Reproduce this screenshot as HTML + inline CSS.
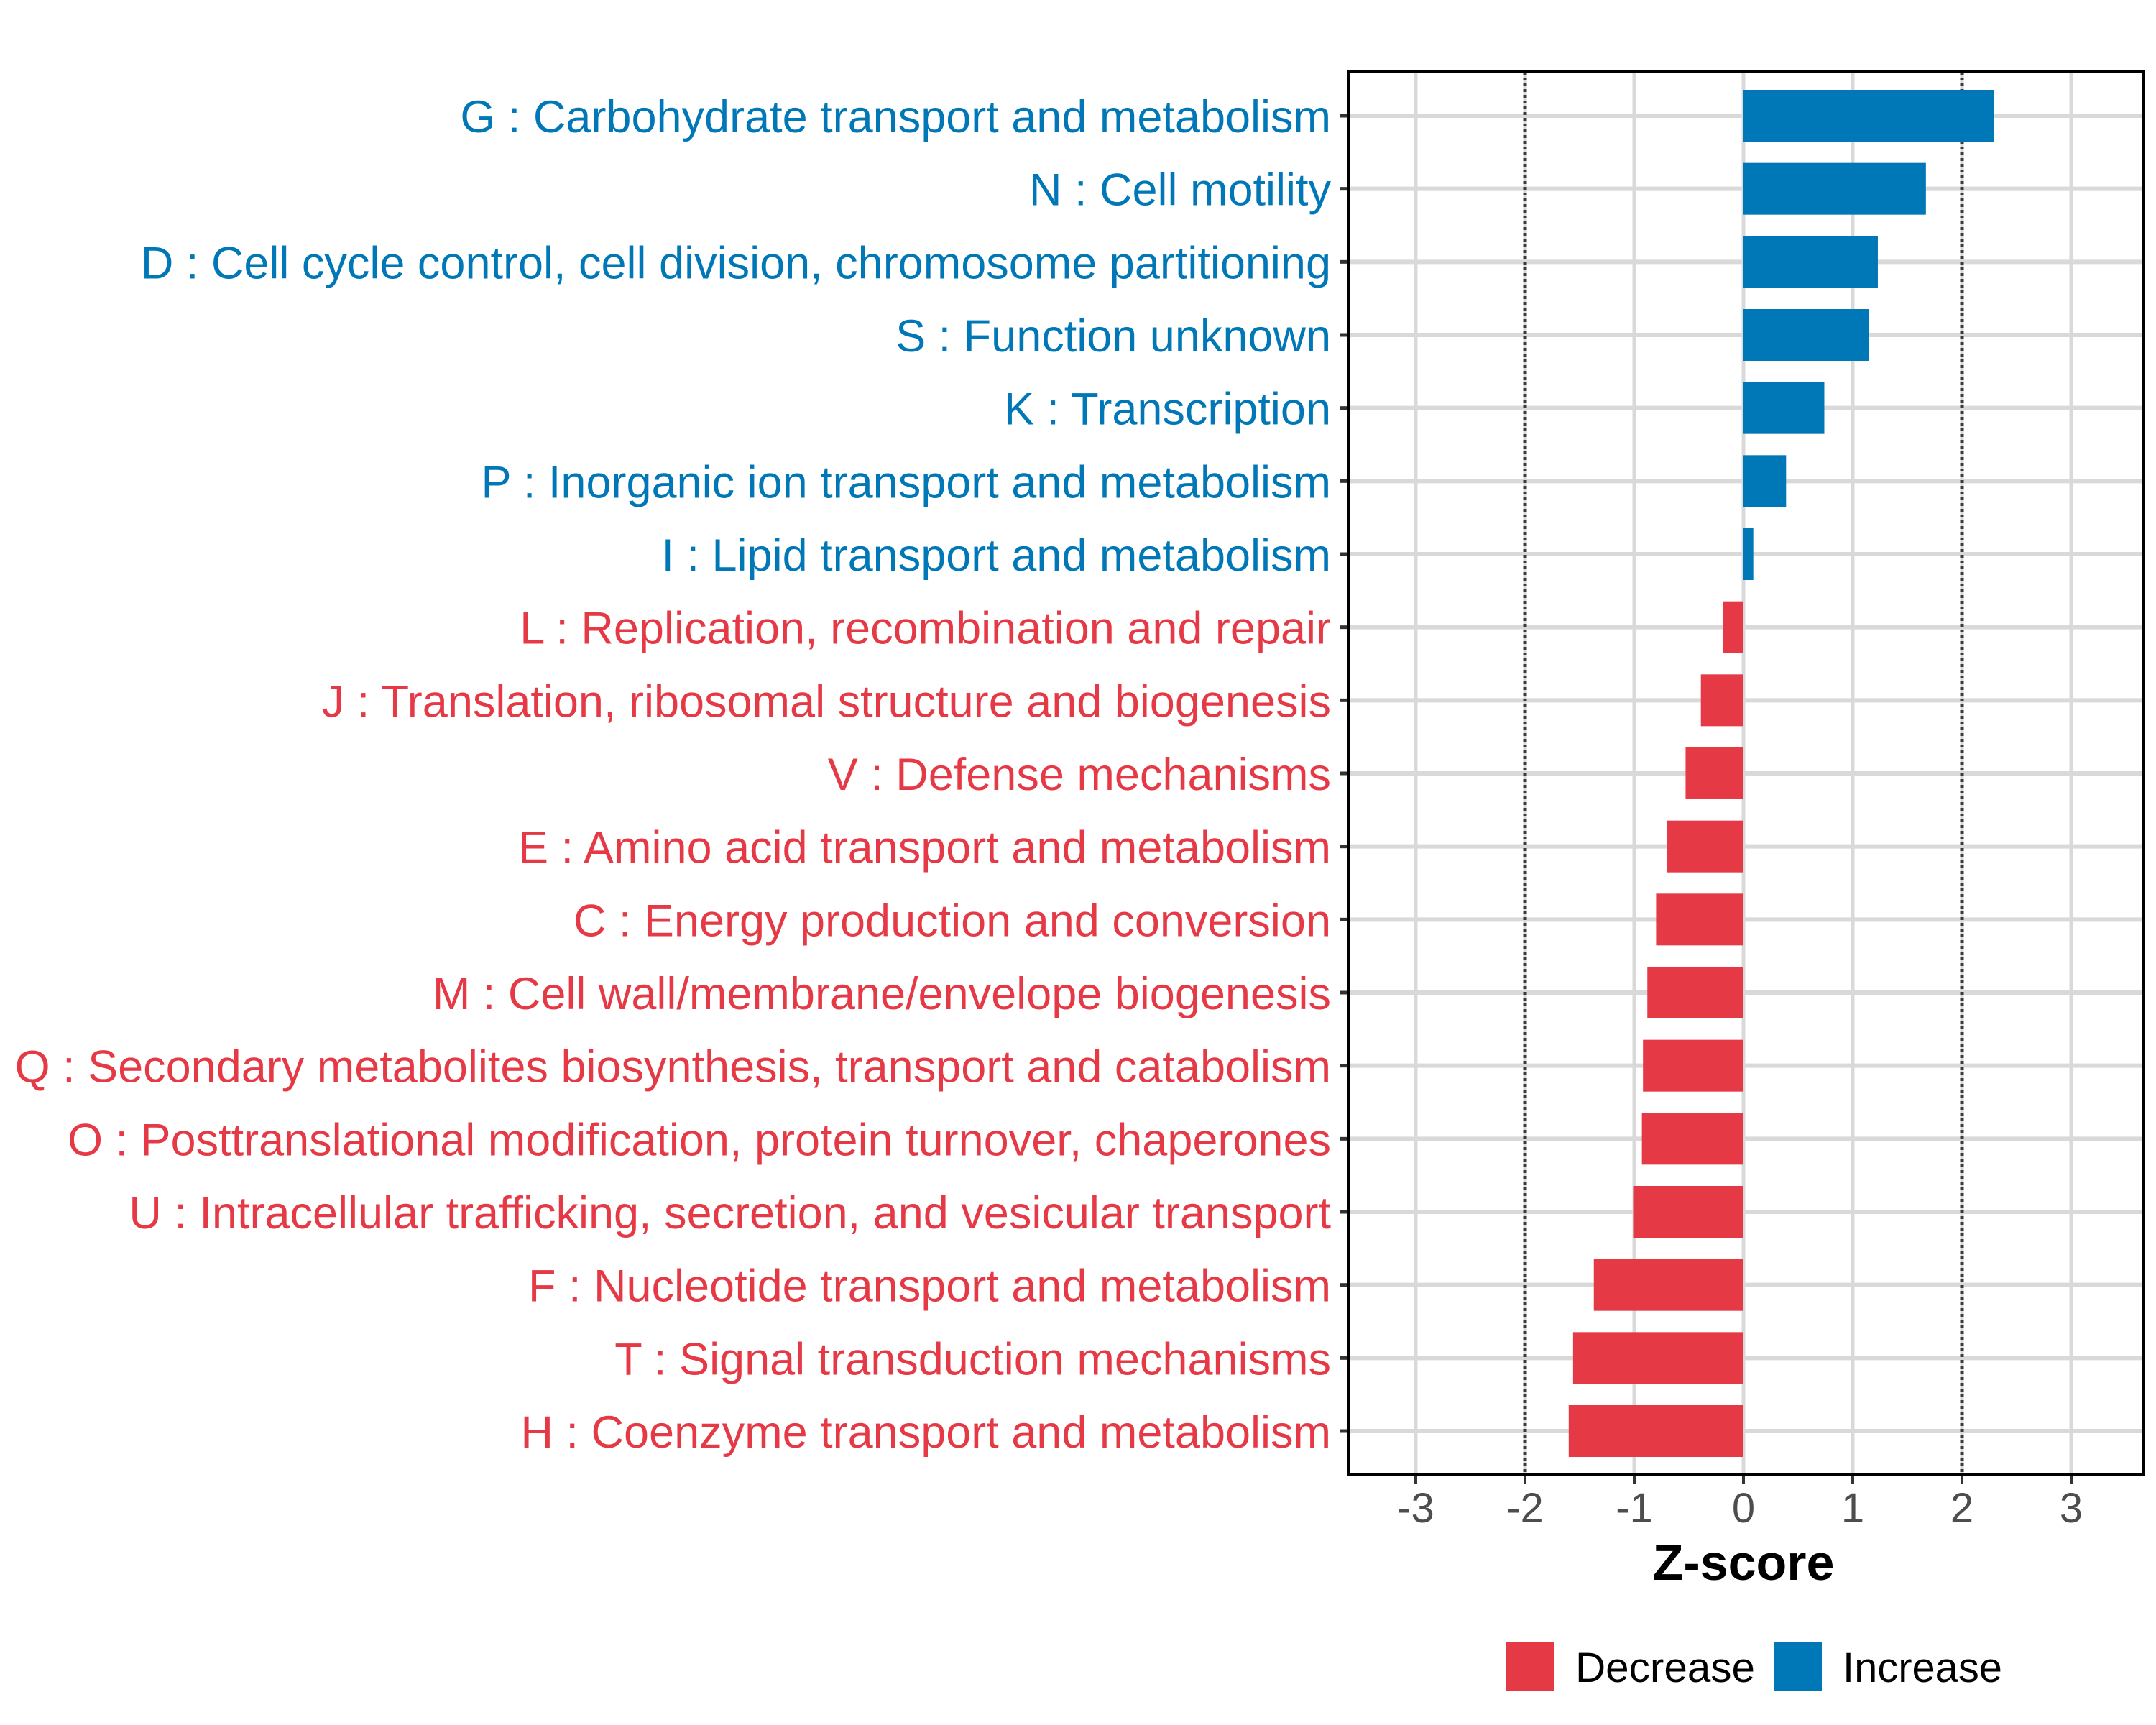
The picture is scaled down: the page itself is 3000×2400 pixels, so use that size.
<!DOCTYPE html>
<html><head><meta charset="utf-8"><style>
html,body{margin:0;padding:0;background:#fff;}
svg{display:block;font-family:"Liberation Sans",Arial,sans-serif;}
</style></head><body>
<svg id="chart" width="3000" height="2400" viewBox="0 0 3000 2400" xmlns="http://www.w3.org/2000/svg">
<rect width="3000" height="2400" fill="#fff"/>
<g id="grid"></g><g id="bars"></g><g id="axes"></g>
<text x="2426" y="2198" font-size="70" font-weight="bold" text-anchor="middle" fill="#000">Z-score</text>
<g>
<rect x="2095" y="2285" width="68" height="67" fill="#E63946"/>
<text x="2192" y="2340" font-size="58" fill="#000" textLength="250" lengthAdjust="spacingAndGlyphs">Decrease</text>
<rect x="2468" y="2285" width="67" height="67" fill="#0077B6"/>
<text x="2564" y="2340" font-size="58" fill="#000" textLength="222" lengthAdjust="spacingAndGlyphs">Increase</text>
</g>
</svg>
<script>
const categories = ["G : Carbohydrate transport and metabolism","N : Cell motility","D : Cell cycle control, cell division, chromosome partitioning","S : Function unknown","K : Transcription","P : Inorganic ion transport and metabolism","I : Lipid transport and metabolism","L : Replication, recombination and repair","J : Translation, ribosomal structure and biogenesis","V : Defense mechanisms","E : Amino acid transport and metabolism","C : Energy production and conversion","M : Cell wall/membrane/envelope biogenesis","Q : Secondary metabolites biosynthesis, transport and catabolism","O : Posttranslational modification, protein turnover, chaperones","U : Intracellular trafficking, secretion, and vesicular transport","F : Nucleotide transport and metabolism","T : Signal transduction mechanisms","H : Coenzyme transport and metabolism"];
const zscores = [2.29,1.67,1.23,1.15,0.74,0.39,0.09,-0.19,-0.39,-0.53,-0.70,-0.80,-0.88,-0.92,-0.93,-1.01,-1.37,-1.56,-1.60];
const xTicks = [-3,-2,-1,0,1,2,3];
const thresholds = [-2,2];
const NS="http://www.w3.org/2000/svg";
const L=1876,R=2982,T=100,B=2052;
const x0=2426,unit=152;
function xs(v){return x0+v*unit;}
const n=categories.length;
const step=(B-T)/(n-1+1.2);
function ys(i){return T+step*(0.6+i);}
function mk(tag,attrs,parent,text){const e=document.createElementNS(NS,tag);for(const k in attrs)e.setAttribute(k,attrs[k]);if(text!==undefined)e.textContent=text;parent.appendChild(e);return e;}
const grid=document.getElementById('grid'),bars=document.getElementById('bars'),axes=document.getElementById('axes');
mk('rect',{x:L,y:T,width:R-L,height:B-T,fill:'#fff'},grid);
categories.forEach((c,i)=>{const l=mk('line',{x1:L,x2:R,y1:ys(i),y2:ys(i),stroke:'#d9d9d9','stroke-width':6},grid);

});
xTicks.forEach(v=>{const l=mk('line',{x1:xs(v),x2:xs(v),y1:T,y2:B,stroke:'#d9d9d9','stroke-width':5},grid);

});
thresholds.forEach(v=>{const l=mk('line',{x1:xs(v),x2:xs(v),y1:T,y2:B,stroke:'#3a3a3a','stroke-width':5,'stroke-dasharray':'4,4'},grid);

});
const bh=72;
zscores.forEach((v,i)=>{const col=v>=0?'#0077B6':'#E63946';
const r=mk('rect',{x:Math.min(xs(0),xs(v)),y:ys(i)-bh/2,width:Math.abs(xs(v)-xs(0)),height:bh,fill:col},bars);


const t=mk('text',{x:1852,y:ys(i)+23,'font-size':63,'text-anchor':'end',fill:col},axes,categories[i]);


const tk=mk('line',{x1:1864,x2:1876,y1:ys(i),y2:ys(i),stroke:'#333','stroke-width':5},axes);

});
xTicks.forEach(v=>{const tk=mk('line',{x1:xs(v),x2:xs(v),y1:B,y2:B+12,stroke:'#333','stroke-width':4},axes);


const t=mk('text',{x:xs(v),y:2118,'font-size':58,'text-anchor':'middle',fill:'#4d4d4d'},axes,String(v));

});
const br=mk('rect',{x:L,y:T,width:R-L,height:B-T,fill:'none',stroke:'#000','stroke-width':4},axes);


</script>
</body></html>
